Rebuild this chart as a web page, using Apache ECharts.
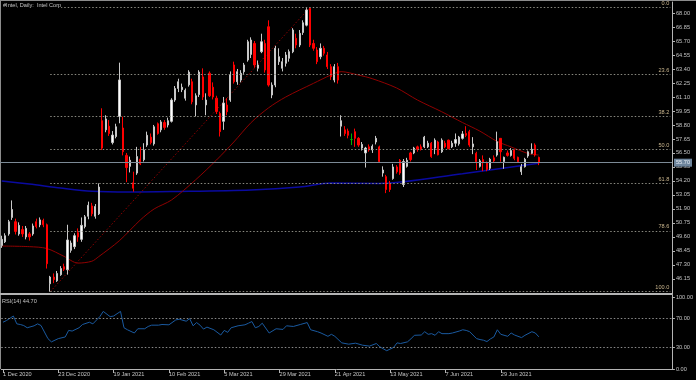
<!DOCTYPE html>
<html><head><meta charset="utf-8">
<script src="https://cdn.jsdelivr.net/npm/echarts@6/dist/echarts.min.js"></script>
<style>html,body{margin:0;padding:0;background:#000;}#c{width:696px;height:380px;}</style>
</head><body><div id="c"></div>
<script>
// ---- categories (trading days) ----
const decDays=[1,2,3,4,7,8,9,10,11,14,15,16,17,18,21,22,23,24,28,29,30,31];
const janDays=[4,5,6,7,8,11,12,13,14,15,19,20,21,22,25,26,27,28,29];
const febDays=[1,2,3,4,5,8,9,10,11,12,16,17,18,19,22,23,24,25,26];
const marDays=[1,2,3,4,5,8,9,10,11,12,15,16,17,18,19,22,23,24,25,26,29,30,31];
const aprDays=[1,5,6,7,8,9,12,13,14,15,16,19,20,21,22,23,26,27,28,29,30];
const mayDays=[3,4,5,6,7,10,11,12,13,14,17,18,19,20,21,24,25,26,27,28];
const junDays=[1,2,3,4,7,8,9,10,11,14,15,16,17,18,21,22,23,24,25,28,29,30];
const julDays=[1,2,6,7,8,9,12,13,14,15];
const dates=[].concat(
  decDays.map(d=>d+' Dec 2020'),janDays.map(d=>d+' Jan 2021'),febDays.map(d=>d+' Feb 2021'),
  marDays.map(d=>d+' Mar 2021'),aprDays.map(d=>d+' Apr 2021'),mayDays.map(d=>d+' May 2021'),
  junDays.map(d=>d+' Jun 2021'),julDays.map(d=>d+' Jul 2021'));

// ---- OHLC ----
const opens=[48.9,49.2,49.85,51.2,50.85,49.85,50.2,49.6,49.85,49.85,50.85,50.6,50.95,50.6,45.75,46.3,46.0,46.5,47.15,46.9,48.5,48.8,49.95,49.4,50.45,51.3,52.15,51.3,51.5,
59.15,58.4,58.7,57.35,57.85,59.5,58.55,56.3,55.4,54.05,54.85,56.0,55.95,57.15,57.8,57.25,58.9,58.4,59.0,58.8,59.1,60.85,61.8,61.7,61.0,62.1,62.35,60.45,61.3,62.75,60.45,63.05,
61.9,61.0,59.75,59.1,60.44,60.85,63.73,62.35,62.49,63.18,64.14,64.6,65.5,63.46,64.82,65.5,66.87,61.26,62.08,64.0,63.46,63.87,64.28,64.82,65.92,65.37,66.4,67.0,68.39,65.5,64.96,64.41,65.1,64.55,63.59,62.49,63.59,
58.7,58.4,58.3,57.6,58.25,57.7,56.9,56.5,57.0,56.75,57.4,57.0,54.85,54.55,54.0,54.4,55.35,55.9,53.9,55.4,56.5,56.5,57.0,57.0,57.0,57.0,57.3,56.9,57.4,56.6,57.3,57.55,57.0,57.3,57.25,
57.7,58.1,58.25,57.0,56.47,55.4,55.95,55.7,55.24,56.1,56.33,57.7,55.8,56.5,56.3,56.74,56.14,54.96,55.37,56.25,56.47,57.15,56.14];
const highs=[49.7,49.9,51.0,52.6,51.1,50.8,50.5,50.5,50.0,50.7,51.1,51.2,51.1,50.7,46.4,46.6,46.8,47.2,47.4,50.6,49.3,49.9,50.3,51.2,51.4,52.5,52.4,52.3,54.0,
60.17,59.6,59.2,58.3,58.9,63.92,59.48,56.5,56.2,54.96,57.0,57.0,57.3,58.25,58.1,58.8,59.0,59.2,59.2,59.4,61.0,62.0,62.6,62.2,61.8,63.3,62.6,61.4,63.3,63.45,61.4,63.2,
62.3,61.2,59.9,61.1,61.0,63.2,64.0,63.4,63.3,63.9,65.8,66.0,65.7,64.1,66.3,65.8,67.4,62.3,65.3,65.1,64.3,64.8,65.0,66.75,66.3,66.6,67.4,68.4,68.47,65.8,65.2,65.5,65.3,64.8,63.8,63.8,63.9,
59.6,58.7,58.5,58.1,58.5,57.8,57.4,57.0,57.2,57.2,57.9,57.1,55.4,54.7,54.2,55.6,55.5,56.0,56.0,56.1,56.6,57.0,57.1,57.2,57.9,57.5,57.4,57.7,57.5,57.7,57.5,57.6,57.5,58.1,57.9,
58.3,58.7,58.4,57.8,56.6,56.0,56.3,55.8,56.1,56.3,58.25,57.7,56.2,56.7,56.9,56.8,56.2,55.6,56.1,56.7,57.29,57.29,56.2];
const lows=[48.7,49.1,49.7,51.0,49.8,49.7,49.6,49.4,49.3,49.7,50.3,50.4,50.4,47.0,45.10,45.8,45.9,46.4,46.8,46.5,48.3,48.6,49.2,49.2,50.3,51.05,51.3,51.1,51.4,
56.74,58.2,57.9,57.2,57.7,58.94,56.3,54.1,54.9,53.32,54.7,55.5,55.8,57.0,57.2,57.1,58.0,58.2,58.4,58.6,59.0,60.7,61.5,61.5,60.8,61.95,60.5,59.5,61.1,60.85,59.6,61.1,
60.9,59.7,57.85,58.4,59.6,60.7,62.2,62.1,62.3,63.0,64.0,64.3,63.5,63.2,64.7,63.1,61.95,61.0,61.9,63.73,63.2,63.6,64.0,64.7,65.1,65.2,66.2,66.9,65.2,64.9,63.8,64.2,64.5,63.4,62.5,62.3,62.2,
57.85,57.9,57.7,57.15,57.0,57.0,56.7,55.3,56.6,56.5,57.2,55.7,54.55,53.2,53.3,54.3,54.8,54.7,53.7,55.3,55.8,56.4,56.6,56.7,56.9,56.9,56.1,56.4,56.3,56.5,56.9,56.8,56.9,57.0,57.1,
57.6,57.8,57.0,56.4,55.1,55.3,55.0,55.0,55.1,55.7,56.2,55.78,55.2,56.2,56.2,55.9,55.7,54.69,55.3,56.1,56.4,56.2,55.5];
const closes=[49.4,49.7,50.85,51.85,50.05,50.55,49.85,50.3,49.6,50.5,50.45,51.0,50.6,47.4,46.3,46.1,46.6,47.0,46.95,49.35,49.1,49.7,49.6,50.55,51.25,52.2,51.5,52.1,53.7,
56.9,59.3,58.1,57.97,58.65,62.5,56.6,55.3,55.9,53.6,56.2,55.6,56.75,57.95,57.35,58.65,58.1,59.05,58.6,59.15,60.85,61.8,62.35,61.9,61.65,63.15,60.7,61.2,63.15,61.1,60.85,61.2,
61.1,59.9,58.25,60.6,59.89,62.9,62.35,63.18,63.05,63.73,65.64,65.78,63.73,63.73,65.64,63.32,62.08,62.08,65.1,64.41,64.0,64.55,64.82,66.6,65.37,66.33,67.2,68.25,65.37,65.1,64.0,65.1,64.69,63.59,62.77,63.59,62.49,
59.15,58.1,57.95,57.6,57.7,57.15,57.2,56.9,56.75,57.05,57.7,55.8,55.1,53.5,53.5,55.35,54.95,54.85,55.8,55.9,55.95,56.9,56.8,56.8,57.8,57.3,56.2,57.55,56.35,57.55,57.0,56.85,57.3,57.6,57.8,
58.06,57.95,57.15,57.24,55.78,55.85,55.7,55.15,55.98,55.85,57.42,56.6,56.14,56.3,56.7,56.06,55.78,55.37,55.98,56.6,56.8,56.33,55.70];

// ---- indicator readings [barIndex, value] ----
const maRed=[[0,48.85],[8,48.8],[13,48.65],[18,48.0],[22,47.45],[26,47.6],[28,47.98],[34,49.3],[40,50.99],[44,51.9],[49,52.63],[56,54.3],[62,55.92],[67,57.4],[72,59.0],[77,60.2],[82,61.1],[90,62.22],[95,62.9],[98,63.18],[103,62.9],[107,62.6],[114,61.84],[120,60.85],[127,59.89],[133,59.0],[138,58.3],[143,57.45],[147,57.0],[152,56.45],[155,56.33]];
const maBlue=[[0,54.2],[8,53.95],[17,53.62],[26,53.35],[37,53.29],[49,53.33],[72,53.46],[86,53.7],[95,54.03],[109,54.0],[133,54.8],[155,55.65]];
const rsi=[[0,65.0],[1,67.3],[3,73.6],[4,62.7],[5,61.8],[6,60.4],[7,57.3],[9,60.0],[10,62.7],[11,60.4],[13,42.2],[14,37.7],[16,42.2],[18,44.5],[19,53.6],[20,52.7],[22,57.3],[23,61.8],[25,65.0],[26,62.7],[28,72.7],[29,80.0],[31,72.7],[32,73.6],[34,80.0],[35,57.3],[36,54.5],[38,50.0],[39,55.9],[41,55.9],[42,59.1],[43,60.9],[45,60.9],[46,61.8],[48,61.4],[50,68.2],[51,69.1],[53,66.4],[54,70.0],[55,60.0],[56,64.5],[57,60.9],[58,55.4],[59,58.2],[61,54.5],[63,47.2],[64,53.6],[65,50.9],[66,57.3],[68,60.0],[70,61.4],[71,63.6],[72,65.9],[73,57.3],[74,59.1],[75,63.6],[77,50.0],[79,55.9],[81,55.0],[82,60.0],[84,59.1],[86,61.8],[88,64.5],[89,54.5],[91,51.8],[92,50.0],[94,45.4],[95,48.2],[96,45.4],[98,36.3],[100,34.5],[102,35.9],[104,33.1],[106,31.8],[108,35.4],[109,30.9],[110,28.1],[111,25.4],[113,30.0],[114,36.3],[115,35.4],[117,37.7],[118,41.8],[119,46.8],[121,47.2],[122,51.8],[123,48.2],[124,49.1],[125,46.8],[126,51.8],[127,49.1],[129,49.1],[130,50.0],[132,52.7],[133,54.5],[134,53.6],[135,51.8],[137,42.2],[138,40.9],[139,40.0],[140,38.1],[141,41.8],[142,44.5],[143,54.5],[144,48.2],[146,45.4],[147,50.0],[148,47.2],[150,43.6],[151,46.8],[153,51.8],[154,50.0],[155,44.7]];

// ---- fibonacci / levels / ticks ----
const fibNames=['0.0','23.6','38.2','50.0','61.8','78.6','100.0'];
const fibLevels=[68.47,62.95,59.54,56.785,54.03,50.10,45.10];
const fibStartBar=14;
const fibTrend=[[14,45.10],[89,68.47]];
const lastPrice=55.70;
const rsiLevels=[70,30];
const priceTicks=[46.15,47.30,48.45,49.60,50.75,51.90,53.05,54.20,55.35,56.50,57.65,58.80,59.95,61.10,62.25,63.40,64.55,65.70,66.85,68.00];
const rsiTicks=[0,30,70,100];

const NCAT=194;
const cats=dates.concat(Array.from({length:NCAT-dates.length},(_,i)=>'f'+i));
const FONT='Liberation Sans';
const FS=5.6;
const TXT='#c4c4c4';
const AX='#b4b4b4';
const showLbl=(i)=>i%16===0 && i<dates.length;

const candles=opens.map((o,i)=>{
  const it={value:[o,closes[i],lows[i],highs[i]]};
  if(o===closes[i]) it.itemStyle={color:'#00b400',color0:'#00b400',borderColor:'#00b400',borderColor0:'#00b400'};
  return it;
});

const chart=echarts.init(document.getElementById('c'),null,{renderer:'canvas'});
chart.setOption({
  backgroundColor:'#000',
  animation:false,
  grid:[
    {left:0,right:24,top:2,height:292},
    {left:0,right:24,top:295,height:74}
  ],
  xAxis:[
    {type:'category',gridIndex:0,data:cats,boundaryGap:true,
     axisLine:{show:true,lineStyle:{color:AX,width:2}},axisTick:{show:false},axisLabel:{show:false},splitLine:{show:false}},
    {type:'category',gridIndex:1,data:cats,boundaryGap:true,
     axisLine:{show:true,lineStyle:{color:AX,width:1}},
     axisTick:{show:true,alignWithLabel:true,interval:(i)=>showLbl(i),length:4,lineStyle:{color:AX}},
     axisLabel:{show:true,interval:(i)=>showLbl(i),align:'left',margin:2,color:TXT,fontFamily:FONT,fontSize:FS},
     splitLine:{show:false}}
  ],
  yAxis:[
    {type:'value',gridIndex:0,position:'right',min:44.91,max:68.904,scale:true,
     axisLine:{show:true,lineStyle:{color:AX}},
     axisTick:{show:true,length:3,customValues:priceTicks,lineStyle:{color:AX}},
     axisLabel:{show:true,customValues:priceTicks,margin:4,color:TXT,fontFamily:FONT,fontSize:FS,formatter:v=>v.toFixed(2)},
     splitLine:{show:false}},
    {type:'value',gridIndex:1,position:'right',min:0,max:102.8,
     axisLine:{show:true,lineStyle:{color:AX}},
     axisTick:{show:true,length:3,customValues:rsiTicks,lineStyle:{color:AX}},
     axisLabel:{show:true,customValues:rsiTicks,margin:4,color:TXT,fontFamily:FONT,fontSize:FS,formatter:v=>v.toFixed(2)},
     splitLine:{show:false}}
  ],
  series:[
    {type:'line',xAxisIndex:0,yAxisIndex:0,data:maBlue,symbol:'none',smooth:0.3,
     lineStyle:{color:'#0a0aa0',width:1.5},z:2},
    {type:'line',xAxisIndex:0,yAxisIndex:0,data:maRed,symbol:'none',smooth:0.3,
     lineStyle:{color:'#900000',width:1},z:2},
    {type:'line',xAxisIndex:0,yAxisIndex:0,data:fibTrend,symbol:'none',
     lineStyle:{color:'#900000',width:1,type:[1.5,2]},z:2},
    {type:'line',xAxisIndex:0,yAxisIndex:0,data:[],symbol:'none',
     markLine:{silent:true,symbol:'none',animation:false,
       lineStyle:{color:'#8a8a80',width:1,type:[1.5,2]},
       label:{show:true,position:'insideEndTop',formatter:'{b}',color:'#c8b48c',fontFamily:FONT,fontSize:FS,distance:[1,1]},
       data:fibLevels.map((v,i)=>[{coord:[fibStartBar,v],name:fibNames[i]},{coord:[NCAT-1,v]}])}},
    {type:'candlestick',xAxisIndex:0,yAxisIndex:0,data:candles,barWidth:1.7,
     itemStyle:{color:'#ffffff',color0:'#ff0000',borderColor:'#c8c8c8',borderColor0:'#ff0000',borderWidth:1},z:3,
     markLine:{silent:true,symbol:'none',animation:false,
       lineStyle:{color:'#7c8a96',width:1,type:'solid'},
       label:{show:true,position:'end',formatter:()=>lastPrice.toFixed(2),color:'#e8eef4',backgroundColor:'#6e859c',
         fontFamily:FONT,fontSize:FS,padding:[1,2,1,2],distance:2},
       data:[{yAxis:lastPrice}]}},
    {type:'line',xAxisIndex:1,yAxisIndex:1,data:rsi,symbol:'none',
     lineStyle:{color:'#1a5aa0',width:1},
     markLine:{silent:true,symbol:'none',animation:false,
       lineStyle:{color:'#8a8a8a',width:1,type:[1.5,2]},label:{show:false},
       data:rsiLevels.map(v=>({yAxis:v}))}}
  ],
  graphic:[
    {type:'line',shape:{x1:0,y1:0.5,x2:696,y2:0.5},style:{stroke:'#8c8c8c',lineWidth:1},silent:true},
    {type:'line',shape:{x1:0.5,y1:0,x2:0.5,y2:369},style:{stroke:'#8c8c8c',lineWidth:1},silent:true},
    {type:'text',left:3,top:2,z:100,style:{text:'#Intel, Daily:  Intel Corp',fill:TXT,font:FS+'px '+FONT,backgroundColor:'#000'}},
    {type:'text',left:2,top:298,z:100,style:{text:'RSI(14) 44.70',fill:TXT,font:FS+'px '+FONT}}
  ]
});
</script></body></html>
